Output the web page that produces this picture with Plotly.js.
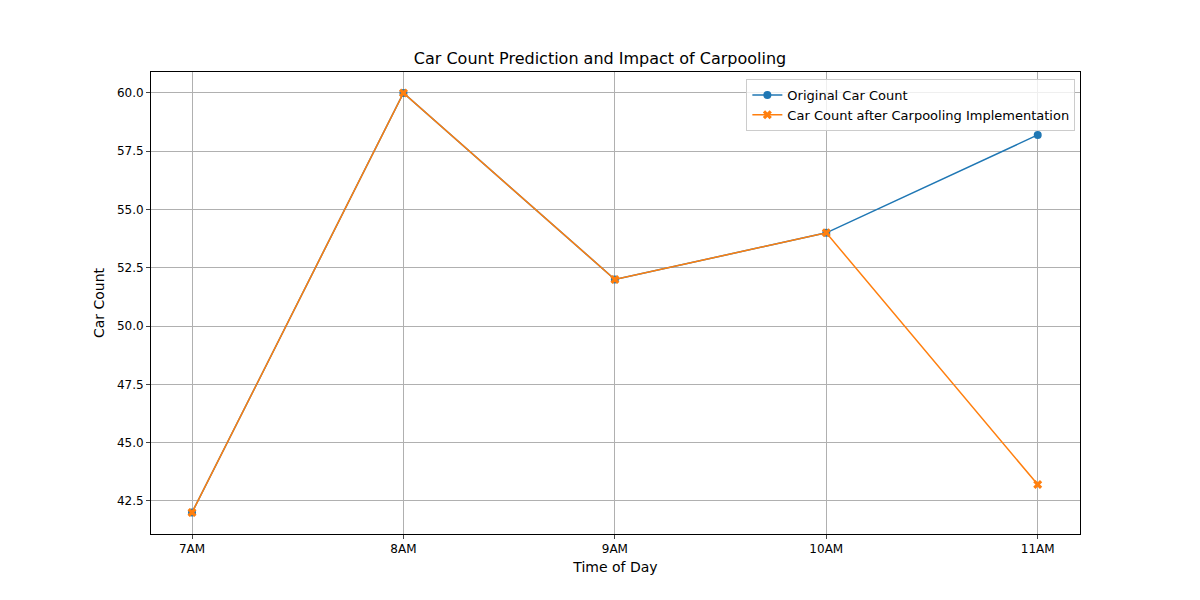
<!DOCTYPE html>
<html><head><script src="https://cdn.plot.ly/plotly-3.0.1.min.js"></script></head>
<body style="margin:0">
<div id="c" style="width:1200px;height:600px"></div>
<script>
const times = ["7AM","8AM","9AM","10AM","11AM"];
const originalCount = [42, 60, 52, 54, 58.2];
const carpoolCount = [42, 60, 52, 54, 43.2];
const xi = times.map((_, i) => i);
const data = [
  {x: xi, y: originalCount, name: "Original Car Count", mode: "lines+markers",
   line: {color: "#1f77b4", width: 1.5}, marker: {symbol: "circle", size: 8, color: "#1f77b4"}},
  {x: xi, y: carpoolCount, name: "Car Count after Carpooling Implementation", mode: "lines+markers",
   line: {color: "#ff7f0e", width: 1.5}, marker: {symbol: "x", size: 8, color: "#ff7f0e"}}
];
const layout = {
  width: 1200, height: 600,
  margin: {l: 151, r: 120, t: 72, b: 66},
  paper_bgcolor: "white", plot_bgcolor: "white",
  font: {family: "DejaVu Sans", size: 12, color: "#000"},
  title: {text: "Car Count Prediction and Impact of Carpooling", x: 0.5, xanchor: "center", y: 0.893, yanchor: "bottom", font: {size: 16}},
  xaxis: {title: {text: "Time of Day", standoff: 6}, tickmode: "array", tickvals: xi, ticktext: times,
    range: [-0.194, 4.2], showgrid: true, gridcolor: "#b0b0b0", zeroline: false, showline: true, mirror: true,
    linecolor: "#000", ticks: "outside", ticklen: 4},
  yaxis: {title: {text: "Car Count", standoff: 8}, range: [41.08, 60.9], tickvals: [42.5,45,47.5,50,52.5,55,57.5,60],
    ticktext: ["42.5","45.0","47.5","50.0","52.5","55.0","57.5","60.0"],
    showgrid: true, gridcolor: "#b0b0b0", zeroline: false, showline: true, mirror: true,
    linecolor: "#000", ticks: "outside", ticklen: 4},
  legend: {x: 0.995, xanchor: "right", y: 0.985, yanchor: "top", bgcolor: "rgba(255,255,255,0.8)",
    bordercolor: "#ccc", borderwidth: 1, font: {size: 13}, tracegroupgap: 0, itemwidth: 30},
  showlegend: true
};
Plotly.newPlot("c", data, layout, {displayModeBar: false});
</script></body></html>
